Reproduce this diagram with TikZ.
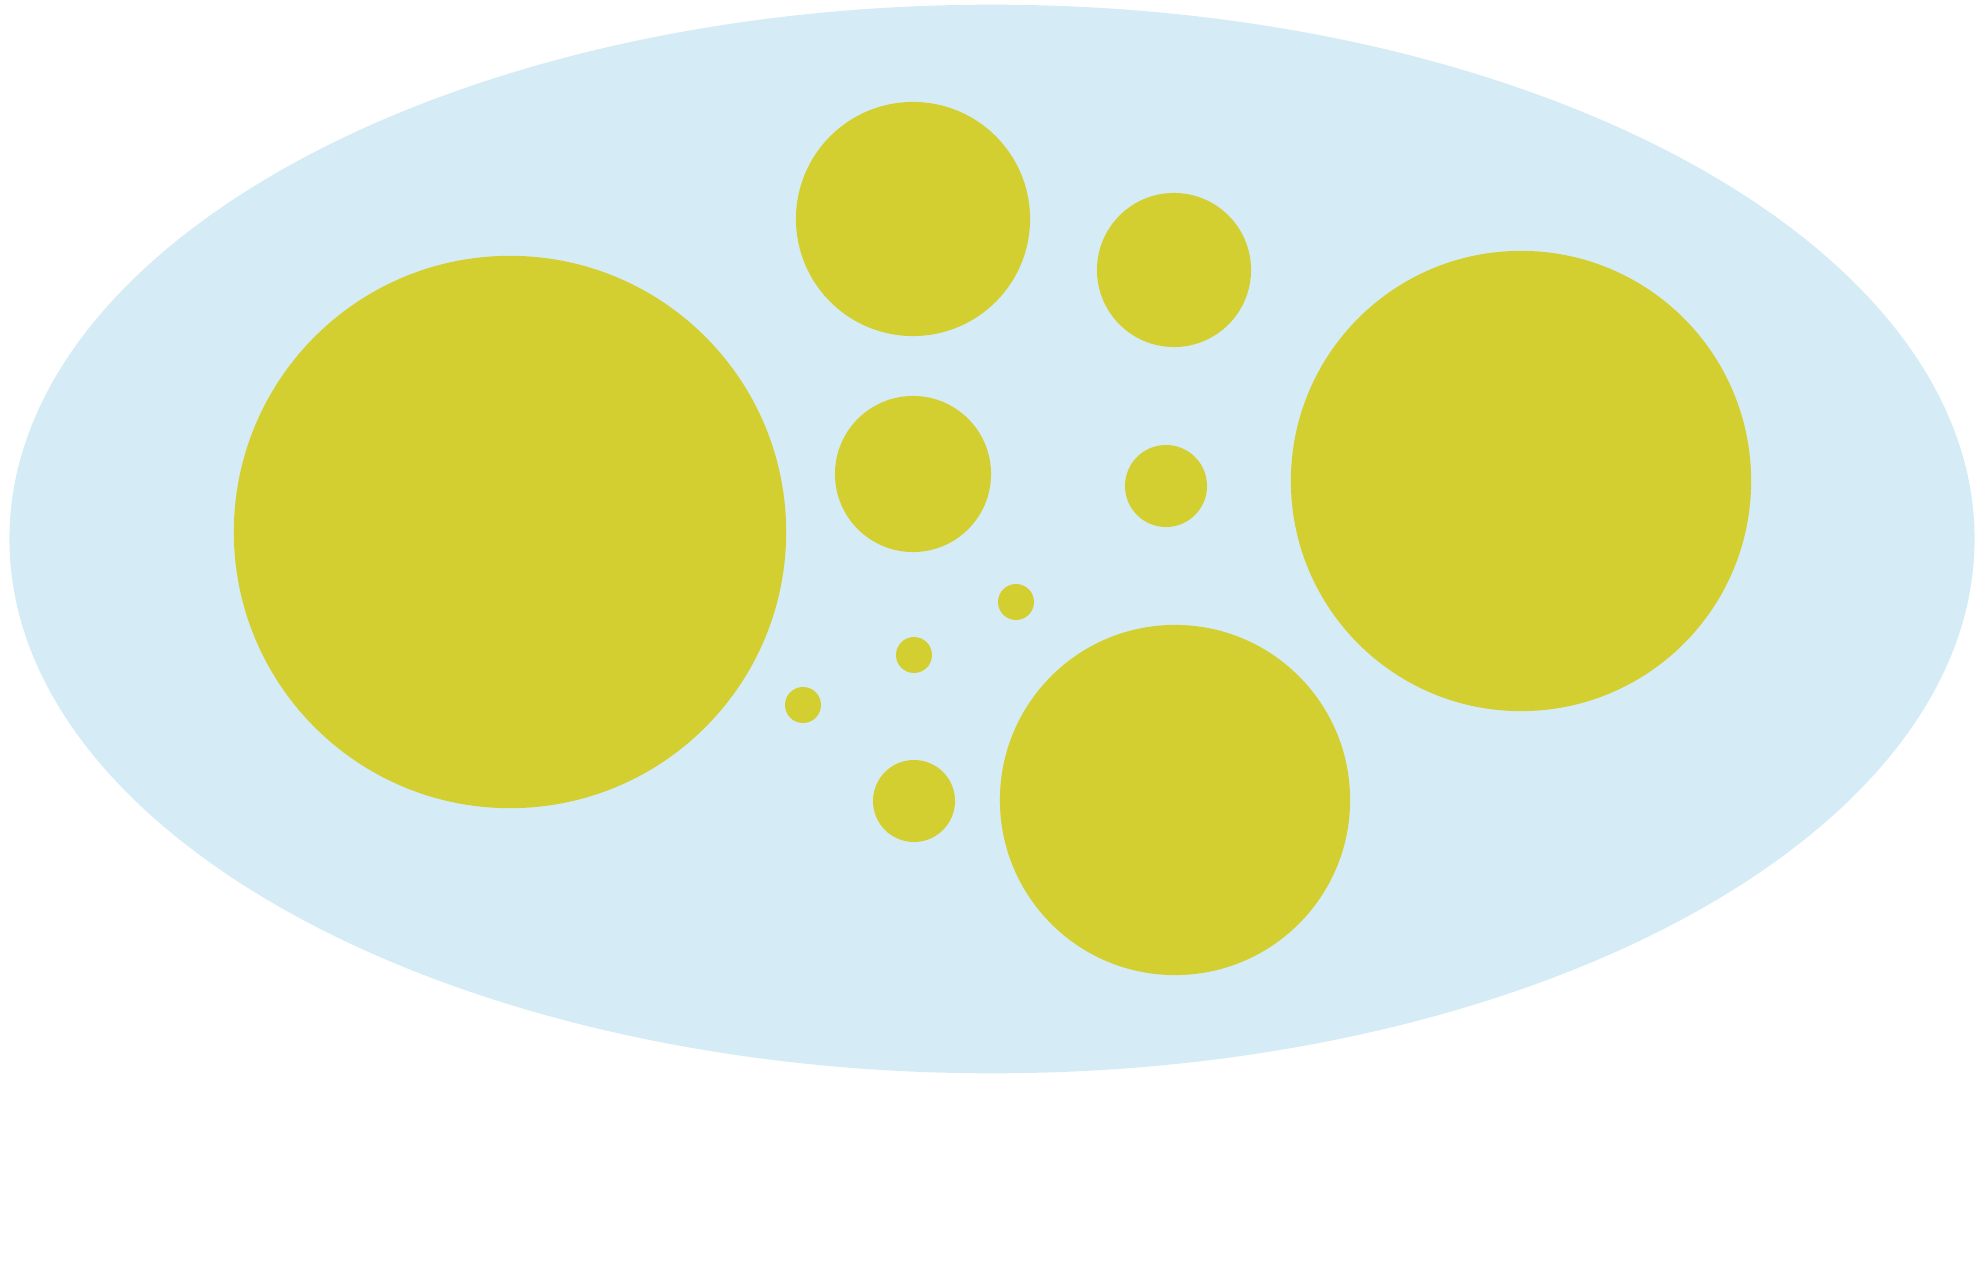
\documentclass[tikz,border=0pt]{standalone}
\usetikzlibrary{shapes.geometric}

\definecolor{skyfill}{HTML}{D5ECF6}
\definecolor{dotyellow}{HTML}{D4CF30}

\begin{document}
\begin{tikzpicture}[
    x=0.01cm, y=-0.01cm,
    cell/.style={ellipse, fill=skyfill, inner sep=0pt,
                 minimum width=19.64cm, minimum height=10.68cm},
    blob/.style={circle, fill=dotyellow, inner sep=0pt,
                 minimum size=#1},
    blob/.default=0.36cm,
]

% --- frame ---
\useasboundingbox (0,0) rectangle (1982,1261);

% --- outer body ---
\node (body) [cell] at (992, 539) {};

% --- large blobs ---
\node (bigleft)   [blob=5.52cm] at (510, 532) {};
\node (bigright)  [blob=4.60cm] at (1521, 481) {};
\node (bigbottom) [blob=3.50cm] at (1175, 800) {};

% --- medium blobs ---
\node (topmid)   [blob=2.34cm] at (913, 219) {};
\node (topright) [blob=1.54cm] at (1174, 270) {};
\node (midleft)  [blob=1.56cm] at (913, 474) {};

% --- small blobs ---
\node (midright) [blob=0.82cm] at (1166, 486) {};
\node (lowmid)   [blob=0.82cm] at (914, 801) {};

% --- dots ---
\node (dotA) [blob] at (1016, 602) {};
\node (dotB) [blob] at (914, 655) {};
\node (dotC) [blob] at (803, 705) {};

\end{tikzpicture}
\end{document}
